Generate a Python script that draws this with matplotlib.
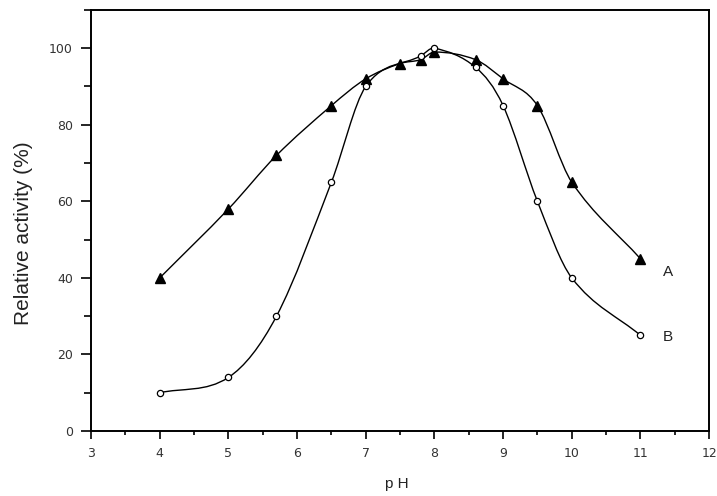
import numpy as np
import matplotlib
matplotlib.use('Agg')
import matplotlib.pyplot as plt
from matplotlib.path import Path
from matplotlib.patches import PathPatch
from matplotlib.ticker import MultipleLocator

plt.rcParams['font.family'] = ['Liberation Sans', 'DejaVu Sans']

# curve A (filled triangles)
ph_a = [4, 5, 5.7, 6.5, 7, 7.5, 7.8, 8, 8.6, 9, 9.5, 10, 11]
act_a = [40, 58, 72, 85, 92, 96, 97, 99, 97, 92, 85, 65, 45]

# curve B (open circles)
ph_b = [4, 5, 5.7, 6.5, 7, 7.8, 8, 8.6, 9, 9.5, 10, 11]
act_b = [10, 14, 30, 65, 90, 98, 100, 95, 85, 60, 40, 25]

curve_labels = ['A', 'B']


def smooth_path(xs, ys):
    # cubic hermite in x through the points, drawn as bezier segments
    x = np.asarray(xs, float)
    y = np.asarray(ys, float)
    m = np.empty_like(y)
    m[1:-1] = (y[2:] - y[:-2]) / (x[2:] - x[:-2])
    m[0] = (y[1] - y[0]) / (x[1] - x[0])
    m[-1] = (y[-1] - y[-2]) / (x[-1] - x[-2])
    verts = [(x[0], y[0])]
    codes = [Path.MOVETO]
    for i in range(len(x) - 1):
        h = (x[i + 1] - x[i]) / 3
        verts += [(x[i] + h, y[i] + m[i] * h),
                  (x[i + 1] - h, y[i + 1] - m[i + 1] * h),
                  (x[i + 1], y[i + 1])]
        codes += [Path.CURVE4] * 3
    return Path(verts, codes)


fig = plt.figure(figsize=(7.17, 4.96), dpi=100)
ax = fig.add_axes([0.127, 0.131, 0.862, 0.849])

for xs, ys in [(ph_a, act_a), (ph_b, act_b)]:
    ax.add_patch(PathPatch(smooth_path(xs, ys), fill=False, ec='black', lw=1.0))

ax.plot(ph_a, act_a, ls='none', marker='^', ms=7.5, mfc='black', mec='black')
ax.plot(ph_b, act_b, ls='none', marker='o', ms=4.5, mfc='white', mec='black', mew=0.9)

ax.text(11.33, act_a[-1] - 3.5, curve_labels[0], fontsize=11, color='#222222', va='center')
ax.text(11.33, act_b[-1] - 0.5, curve_labels[1], fontsize=11, color='#222222', va='center')

ax.set_xlim(3, 12)
ax.set_ylim(0, 110)
ax.xaxis.set_major_locator(MultipleLocator(1))
ax.xaxis.set_minor_locator(MultipleLocator(0.5))
ax.yaxis.set_major_locator(MultipleLocator(20))
ax.yaxis.set_minor_locator(MultipleLocator(10))
ax.tick_params(axis='y', which='major', direction='out', length=7, width=1.2, pad=6)
ax.tick_params(axis='y', which='minor', direction='out', length=5, width=1.2)
ax.tick_params(axis='x', which='major', direction='out', length=5.5, width=1.2, pad=6)
ax.tick_params(axis='x', which='minor', direction='out', length=3, width=1.2)
for lab in ax.get_xticklabels() + ax.get_yticklabels():
    lab.set_fontfamily('DejaVu Sans')
    lab.set_fontsize(9)
    lab.set_color('#333333')
for s in ax.spines.values():
    s.set_linewidth(1.4)

ax.set_xlabel('p H', fontsize=11, color='#222222')
ax.set_ylabel('Relative activity (%)', fontsize=15, color='#222222')
ax.xaxis.set_label_coords(0.495, -0.108)
ax.yaxis.set_label_coords(-0.094, 0.47)

fig.savefig('out.png', dpi=100)
